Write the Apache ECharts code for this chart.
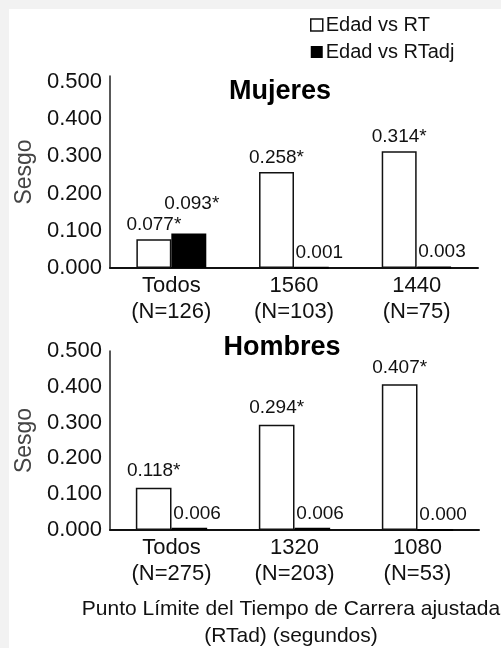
<!DOCTYPE html>
<html>
<head>
<meta charset="utf-8">
<script src="https://cdn.jsdelivr.net/npm/echarts@6/dist/echarts.min.js"></script>
<style>
html,body{margin:0;padding:0;background:#ffffff;}
#c{width:501px;height:648px;}
</style>
</head>
<body>
<div id="c"></div>
<script>
// ---- data ----
const seriesNames = ['Edad vs RT', 'Edad vs RTadj'];
const mujeresCats = ['Todos\n(N=126)', '1560\n(N=103)', '1440\n(N=75)'];
const hombresCats = ['Todos\n(N=275)', '1320\n(N=203)', '1080\n(N=53)'];
const mujeresRT = [0.077, 0.258, 0.314];
const mujeresRTadj = [0.093, 0.001, 0.003];
const hombresRT = [0.118, 0.294, 0.407];
const hombresRTadj = [0.006, 0.006, 0.000];
const mujeresRTsig = [true, true, true];
const mujeresRTadjSig = [true, false, false];
const hombresRTsig = [true, true, true];
const hombresRTadjSig = [false, false, false];
const yTicks = [0, 0.1, 0.2, 0.3, 0.4, 0.5];

const FONT = 'Liberation Sans';
const chart = echarts.init(document.getElementById('c'), null, {renderer: 'canvas'});

function fmt(v, sig) { return v.toFixed(3) + (sig ? '*' : ''); }

function whiteData(vals, sig, dist) {
  return vals.map((v, i) => ({
    value: v,
    label: {show: true, position: 'top', distance: dist, formatter: fmt(v, sig[i])}
  }));
}
function blackData(vals, sig, raised) {
  return vals.map((v, i) => {
    if (raised[i]) {
      return {value: v, label: {show: true, position: 'top', distance: 20, offset: [3, 0], formatter: fmt(v, sig[i])}};
    }
    return {value: v, label: {show: true, position: 'top', align: 'left', distance: 5, offset: [-16, 0], formatter: fmt(v, sig[i])}};
  });
}

const labelStyle = {fontFamily: FONT, fontSize: 19, color: '#111'};

function yAxis(gridIndex, max, showMax) {
  return {
    type: 'value', gridIndex, min: yTicks[0], max: max, interval: 0.1,
    name: 'Sesgo', nameLocation: 'middle', nameGap: 67,
    nameTextStyle: {fontFamily: FONT, fontSize: 23, color: '#444'},
    axisLine: {show: true, lineStyle: {color: '#222', width: 1.5}},
    axisTick: {show: false},
    splitLine: {show: false},
    axisLabel: {fontFamily: FONT, fontSize: 22, color: '#111', margin: 8, showMaxLabel: showMax,
      formatter: v => (yTicks.some(t => Math.abs(t - v) < 1e-9) ? v.toFixed(3) : '')}
  };
}
function xAxis(gridIndex, cats, extra) {
  return Object.assign({
    type: 'category', gridIndex, data: cats,
    axisLine: {show: true, lineStyle: {color: '#111', width: 2}},
    axisTick: {show: false},
    axisLabel: {fontFamily: FONT, fontSize: 22, color: '#111', margin: 5, lineHeight: 26, interval: 0}
  }, extra || {});
}

const whiteStyle = {color: '#ffffff', borderColor: '#111', borderWidth: 1.5};
const blackStyle = {color: '#000000', borderColor: '#000', borderWidth: 2};

const option = {
  backgroundColor: '#ffffff',
  animation: false,
  graphic: [
    {type: 'rect', shape: {x: 0, y: 0, width: 501, height: 9}, style: {fill: '#f2f2f2'}, z: -10},
    {type: 'rect', shape: {x: 0, y: 0, width: 9, height: 648}, style: {fill: '#f2f2f2'}, z: -10}
  ],
  title: [
    {text: 'Mujeres', left: 275, top: 73, textAlign: 'center', textStyle: {fontFamily: FONT, fontSize: 27, fontWeight: 'bold', color: '#000'}},
    {text: 'Hombres', left: 277, top: 329, textAlign: 'center', textStyle: {fontFamily: FONT, fontSize: 27, fontWeight: 'bold', color: '#000'}}
  ],
  legend: {
    orient: 'vertical', left: 305, top: 10, itemGap: 7, itemWidth: 12, itemHeight: 12,
    data: [
      {name: seriesNames[0], icon: 'rect', itemStyle: {color: '#ffffff', borderColor: '#111', borderWidth: 1.5}},
      {name: seriesNames[1], icon: 'rect', itemStyle: {color: '#000000', borderColor: '#000', borderWidth: 0}}
    ],
    textStyle: {fontFamily: FONT, fontSize: 20, color: '#111', padding: [0, 0, 0, -2]}
  },
  grid: [
    {left: 110, top: 76, width: 368, height: 192, outerBoundsMode: 'none', containLabel: false},
    {left: 110, top: 351, width: 369, height: 179, outerBoundsMode: 'none', containLabel: false}
  ],
  xAxis: [
    xAxis(0, mujeresCats),
    xAxis(1, hombresCats, {
      name: 'Punto Límite del Tiempo de Carrera ajustada\n(RTad) (segundos)',
      nameLocation: 'middle', nameGap: 66,
      nameTextStyle: {fontFamily: FONT, fontSize: 21, color: '#111', lineHeight: 27, padding: [0, 7, 0, 0]}
    })
  ],
  yAxis: [yAxis(0, 0.516, false), yAxis(1, 0.5, true)],
  series: [
    {name: seriesNames[0], type: 'bar', xAxisIndex: 0, yAxisIndex: 0, barGap: '0%', barCategoryGap: '43%',
     itemStyle: whiteStyle, label: labelStyle, data: whiteData(mujeresRT, mujeresRTsig, 5)},
    {name: seriesNames[1], type: 'bar', xAxisIndex: 0, yAxisIndex: 0, barGap: '0%', barCategoryGap: '43%',
     itemStyle: blackStyle, label: labelStyle, data: blackData(mujeresRTadj, mujeresRTadjSig, [true, false, false])},
    {name: seriesNames[0], type: 'bar', xAxisIndex: 1, yAxisIndex: 1, barGap: '0%', barCategoryGap: '42%',
     itemStyle: whiteStyle, label: labelStyle, data: whiteData(hombresRT, hombresRTsig, 7)},
    {name: seriesNames[1], type: 'bar', xAxisIndex: 1, yAxisIndex: 1, barGap: '0%', barCategoryGap: '42%',
     itemStyle: blackStyle, label: labelStyle, data: blackData(hombresRTadj, hombresRTadjSig, [false, false, false])}
  ]
};
chart.setOption(option);
</script>
</body>
</html>
